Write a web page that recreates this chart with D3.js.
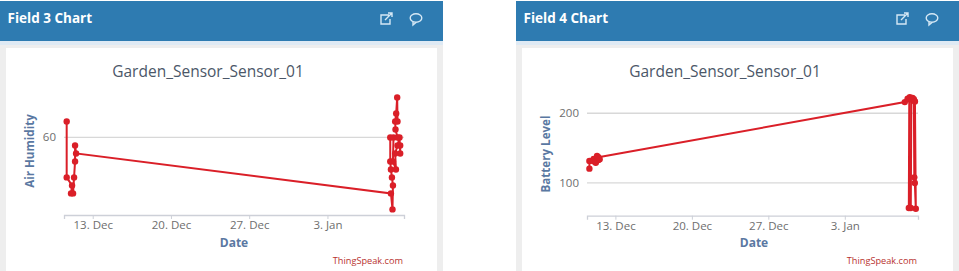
<!DOCTYPE html>
<html><head><meta charset="utf-8">
<script src="https://cdn.jsdelivr.net/npm/d3@7"></script>
<style>html,body{margin:0;padding:0;background:#fff;overflow:hidden}svg{display:block}text{font-family:"Open Sans",sans-serif}</style>
</head><body><svg id="c" width="959" height="271"></svg>
<script>
// Dates are days relative to 13 Dec
const tickDays=[0,7,14,21];
const tickLabels=["13. Dec","20. Dec","27. Dec","3. Jan"];
const chartTitle="Garden_Sensor_Sensor_01";
const humidityDays=[-2.33,-2.33,-1.85,-1.94,-1.76,-1.67,-1.58,-1.58,-1.49,26.68,26.82,26.86,26.77,26.68,26.62,26.62,26.91,26.86,27.13,27.06,27.27,27.45,27.51,27.51,27.27,27.09,27.06,27.15,27.24,27.27];
const humidityVals=[64,50,48,46,46,50,54,58,56,46,42,48,50,52,54,60,60,54,52,56,58,60,56,58,60,62,64,66,70,64];
const batteryDays=[-2.38,-2.38,-1.99,-1.8,-2.0,-1.68,-1.56,-1.8,-1.44,-1.56,26.49,26.75,26.95,27.2,27.35,26.9,26.86,27.04,27.09,27.32,27.36,27.41,27.5,27.42];
const batteryVals=[120.5,131.6,134.4,129,131,138.7,133,130,134,137,216,221,223,222,218,220,64,64,220,220,108,100,63,217];

const svg=d3.select("#c");
function panel(o){
  const g=svg.append("g");
  g.append("rect").attr("x",o.x0).attr("y",45).attr("width",o.x1-o.x0).attr("height",226).attr("fill","#eeeeee");
  g.append("rect").attr("x",o.x0+6).attr("y",48).attr("width",o.x1-o.x0-12).attr("height",223).attr("fill","#fff");
  g.append("rect").attr("x",o.x0).attr("y",41).attr("width",o.x1-o.x0).attr("height",4).attr("fill","#dfeaf4");
  g.append("rect").attr("x",o.x0).attr("y",1).attr("width",o.x1-o.x0).attr("height",40).attr("fill","#2e7bb1");
  g.append("text").attr("x",o.x0+7.5).attr("y",23).attr("fill","#fff").attr("font-size",13.5).attr("font-weight",700).text(o.head);
  // header icons
  const ix=o.x1-62, iy=13;
  const ic=g.append("g").attr("fill","none").attr("stroke","#d5e8f5").attr("stroke-width",1.4);
  ic.append("path").attr("d",`M${ix+8} ${iy+2}H${ix}V${iy+11}H${ix+9}V${iy+6}M${ix+4} ${iy+7}L${ix+11} ${iy}M${ix+7} ${iy}H${ix+11}V${iy+4}`);
  ic.append("ellipse").attr("cx",o.x1-27).attr("cy",iy+5).attr("rx",5.8).attr("ry",4.2);
  ic.append("path").attr("d",`M${o.x1-30} ${iy+9}L${o.x1-30} ${iy+12}L${o.x1-27} ${iy+9.5}`);

  g.append("text").attr("x",o.tx).attr("y",77).attr("text-anchor","middle").attr("fill","#4b5768").attr("font-size",15.5).text(chartTitle);

  const t0=Date.UTC(2020,11,13), day=864e5;
  const x=d3.scaleUtc().domain([new Date(t0+o.dom[0]*day),new Date(t0+o.dom[1]*day)]).range(o.xr);
  const y=d3.scaleLinear().domain(o.yd).range(o.yr);
  const toDate=d=>new Date(t0+d*day);

  // grid
  g.append("g").selectAll("line").data(o.yt).join("line")
    .attr("x1",o.xr[0]).attr("x2",o.xr[1]).attr("y1",d=>y(d)).attr("y2",d=>y(d))
    .attr("stroke","#d8d8d8").attr("stroke-width",1.3);
  g.append("g").selectAll("text").data(o.yt).join("text")
    .attr("x",o.xr[0]-8).attr("y",d=>y(d)+4).attr("text-anchor","end").attr("fill","#6e6e6e").attr("font-size",11.5).text(d=>d);

  // x axis
  const ax=g.append("g").attr("transform",`translate(0,${o.yr[0]})`)
    .call(d3.axisBottom(x).tickValues(tickDays.map(toDate)).tickSize(4).tickPadding(2).tickFormat((d,i)=>tickLabels[i]));
  ax.select(".domain").attr("stroke","#cdd0d8").attr("stroke-width",1.3);
  ax.selectAll(".tick line").attr("stroke","#cdd0d8");
  ax.selectAll("text").attr("fill","#6e6e6e").attr("font-size",11.5).attr("font-family",'"Open Sans",sans-serif');

  g.append("text").attr("x",o.dx).attr("y",247).attr("text-anchor","middle").attr("fill","#5a78a2").attr("font-size",12).attr("font-weight",700).text("Date");
  g.append("text").attr("transform",`translate(${o.lx},${o.ly}) rotate(-90)`).attr("text-anchor","middle").attr("fill","#5a78a2").attr("font-size",11.6).attr("font-weight",700).text(o.yl);
  g.append("text").attr("x",o.xr[1]-1).attr("y",264).attr("text-anchor","end").attr("fill","#b8332f").attr("font-size",9.2).text("ThingSpeak.com");

  const pts=o.days.map((d,i)=>[toDate(d),o.vals[i]]);
  g.append("path").attr("d",d3.line().x(d=>x(d[0])).y(d=>y(d[1]))(pts)).attr("fill","none").attr("stroke","#da1f28").attr("stroke-width",2);
  g.append("g").selectAll("circle").data(pts).join("circle").attr("cx",d=>x(d[0])).attr("cy",d=>y(d[1])).attr("r",3.2).attr("fill","#da1f28");
}
panel({x0:0,x1:443,head:"Field 3 Chart",tx:208,dx:234,lx:34,ly:151,yl:"Air Humidity",
  dom:[-2.57,27.85],xr:[64,404],yd:[40.6,80],yr:[215,57.5],yt:[60],days:humidityDays,vals:humidityVals});
panel({x0:516,x1:959,head:"Field 4 Chart",tx:725,dx:754,lx:550,ly:154,yl:"Battery Level",
  dom:[-2.6,27.7],xr:[587,918],yd:[53,280],yr:[215.7,57.5],yt:[100,200],days:batteryDays,vals:batteryVals});
</script></body></html>
